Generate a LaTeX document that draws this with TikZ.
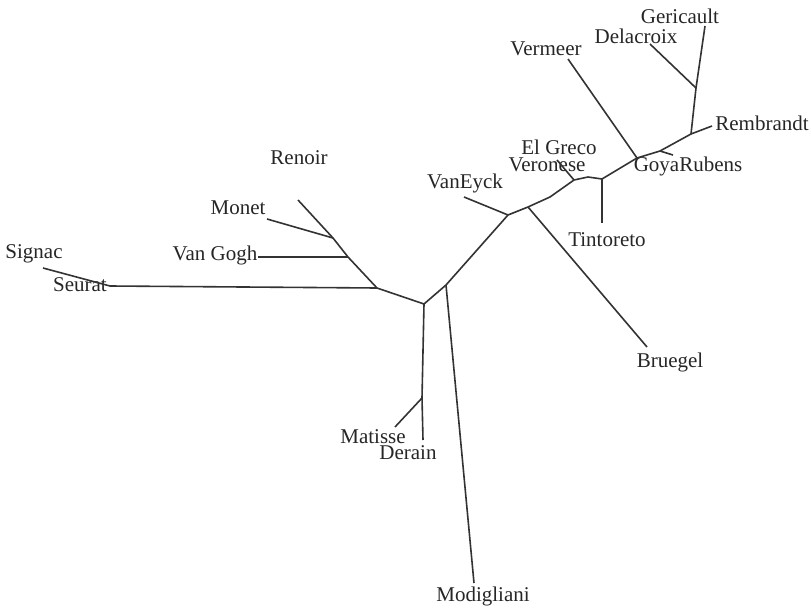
\documentclass[tikz,border=0pt]{standalone}
\usepackage{fontspec}
\setmainfont{Liberation Serif}
\usetikzlibrary{positioning}

\begin{document}
\begin{tikzpicture}[x=1pt,y=-1pt]

                \useasboundingbox (0,0) rectangle (811,610);

                % Style of the painter names
                \tikzset{painter/.style={font=\fontsize{21}{24}\selectfont,
                    text=black!85, inner sep=0pt}}

                % Names of the painters
                \begin{scope}[every node/.style={painter}]
                    \node (Gericault) at (680,16) {Gericault};
                    \node (Delacroix) at (636,36) {Delacroix};
                    \node (Vermeer) at (546,49) {Vermeer};
                    \node (Rembrandt) at (762,123) {Rembrandt};
                    \node (ElGreco) at (559,147) {El Greco};
                    \node (Veronese) at (547,165) {Veronese};
                    \node (GoyaRubens) at (688,166) {GoyaRubens};
                    \node (VanEyck) at (465,183) {VanEyck};
                    \node (Tintoreto) at (607,240) {Tintoreto};
                    \node (Renoir) at (299,158) {Renoir};
                    \node (Monet) at (238,208) {Monet};
                    \node (VanGogh) at (215,255) {Van Gogh};
                    \node (Signac) at (34,254) {Signac};
                    \node (Seurat) at (80,285) {Seurat};
                    \node (Bruegel) at (670,362) {Bruegel};
                    \node (Matisse) at (373,437) {Matisse};
                    \node (Derain) at (408,453) {Derain};
                    \node (Modigliani) at (483,596) {Modigliani};
                \end{scope}

                % Tips of the leaves
                \coordinate (lRenoir) at (298,200);
                \coordinate (lMonet) at (267,219);
                \coordinate (lVanGogh) at (258,257);
                \coordinate (lSeurat) at (110,286);
                \coordinate (lSignac) at (43,268);
                \coordinate (lMatisse) at (395,427);
                \coordinate (lDerain) at (423,440);
                \coordinate (lModigliani) at (474,583);
                \coordinate (lVanEyck) at (464,197);
                \coordinate (lBruegel) at (647,347);
                \coordinate (lVeronese) at (557,160);
                \coordinate (lTintoreto) at (602,223);
                \coordinate (lVermeer) at (568,59);
                \coordinate (lGoyaRubens) at (673,155);
                \coordinate (lRembrandt) at (712,126);
                \coordinate (lDelacroix) at (650,44);
                \coordinate (lGericault) at (705,26);

                % Inner branch points
                \coordinate (jMonet) at (333,238);
                \coordinate (jVanGogh) at (348,257);
                \coordinate (jSeurat) at (377,288);
                \coordinate (c1) at (424,304);
                \coordinate (jMatisse) at (422,398);
                \coordinate (c2) at (446,285);
                \coordinate (jVanEyck) at (508,215);
                \coordinate (jBruegel) at (528,207);
                \coordinate (bend1) at (550,197);
                \coordinate (jVeronese) at (574,180);
                \coordinate (bend2) at (588,177);
                \coordinate (jTintoreto) at (602,179);
                \coordinate (jVermeer) at (637,158);
                \coordinate (jGoya) at (660,151);
                \coordinate (jRembrandt) at (691,134);
                \coordinate (jDelacroix) at (696,88);

                \begin{scope}[line width=1.6pt, black!80, line join=round]
                    \draw (lRenoir) -- (jMonet) -- (jVanGogh) -- (jSeurat) -- (c1);
                    \draw (jMonet) -- (lMonet);
                    \draw (jVanGogh) -- (lVanGogh);
                    \draw (jSeurat) -- (lSeurat) -- (lSignac);
                    \draw (c1) -- (jMatisse) -- (lDerain);
                    \draw (jMatisse) -- (lMatisse);
                    \draw (c1) -- (c2) -- (jVanEyck) -- (jBruegel);
                    \draw (c2) -- (lModigliani);
                    \draw (jVanEyck) -- (lVanEyck);
                    \draw (jBruegel) -- (lBruegel);
                    \draw (jBruegel) -- (bend1) -- (jVeronese) -- (bend2)
                        -- (jTintoreto) -- (jVermeer) -- (jGoya)
                        -- (jRembrandt) -- (lRembrandt);
                    \draw (jVeronese) -- (lVeronese);
                    \draw (jTintoreto) -- (lTintoreto);
                    \draw (jVermeer) -- (lVermeer);
                    \draw (jGoya) -- (lGoyaRubens);
                    \draw (jRembrandt) -- (jDelacroix) -- (lGericault);
                    \draw (jDelacroix) -- (lDelacroix);
                \end{scope}

\end{tikzpicture}
\end{document}
